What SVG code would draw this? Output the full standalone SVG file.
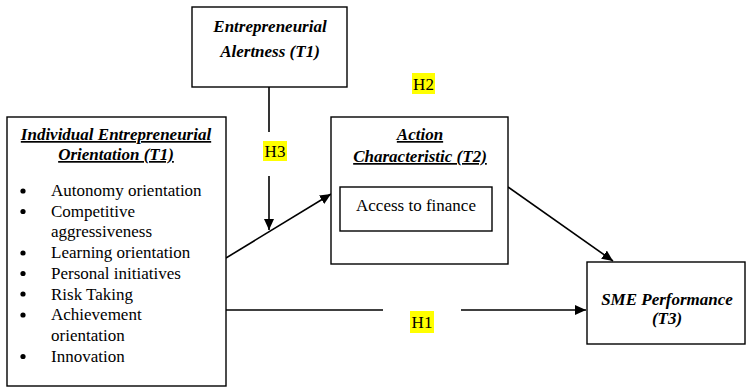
<svg xmlns="http://www.w3.org/2000/svg" width="746" height="388" viewBox="0 0 746 388">
<style>
.box{fill:#fff;stroke:#000;stroke-width:1.4}
.t{font-family:"Liberation Serif","Times New Roman",serif;font-size:17px;fill:#000}
.bi{font-weight:bold;font-style:italic}
.u{text-decoration:underline}
.hl{fill:#ffff00}
.ln{stroke:#000;stroke-width:1.6;fill:none}
</style>
<defs>
<marker id="ah" markerUnits="userSpaceOnUse" markerWidth="12" markerHeight="10" refX="11" refY="5" orient="auto">
<path d="M0,0 L11,5 L0,10 Z" fill="#000"/>
</marker>
</defs>
<rect width="746" height="388" fill="#fff"/>

<g id="connectors">
<line class="ln" x1="269" y1="87" x2="269" y2="132"/>
<line class="ln" x1="269" y1="176" x2="269" y2="230" marker-end="url(#ah)"/>
<line class="ln" x1="226" y1="258" x2="331" y2="194" marker-end="url(#ah)"/>
<line class="ln" x1="508" y1="187" x2="613" y2="261" marker-end="url(#ah)"/>
<line class="ln" x1="226" y1="310" x2="383" y2="310"/>
<line class="ln" x1="461" y1="310" x2="586" y2="310" marker-end="url(#ah)"/>
</g>

<g id="label-h1">
<rect class="hl" x="410" y="311" width="24" height="22"/>
<text class="t" x="422" y="328" text-anchor="middle">H1</text>
</g>
<g id="label-h2">
<rect class="hl" x="412" y="73" width="23" height="21"/>
<text class="t" x="423.5" y="90" text-anchor="middle">H2</text>
</g>
<g id="label-h3">
<rect class="hl" x="263" y="141" width="24" height="20"/>
<text class="t" x="275" y="157" text-anchor="middle">H3</text>
</g>

<g id="node-alertness">
<rect class="box" x="192" y="7" width="155" height="80"/>
<text class="t bi" x="270" y="32" text-anchor="middle">Entrepreneurial</text>
<text class="t bi" x="270" y="57" text-anchor="middle">Alertness (T1)</text>
</g>

<g id="node-ieo">
<rect class="box" x="7" y="117" width="219" height="269"/>
<text class="t bi u" x="116" y="140" text-anchor="middle">Individual Entrepreneurial</text>
<text class="t bi u" x="116" y="160" text-anchor="middle">Orientation (T1)</text>
<g fill="#000">
<circle cx="23" cy="191" r="2.6"/>
<circle cx="23" cy="211.5" r="2.6"/>
<circle cx="23" cy="253" r="2.6"/>
<circle cx="23" cy="273.5" r="2.6"/>
<circle cx="23" cy="294" r="2.6"/>
<circle cx="23" cy="315" r="2.6"/>
<circle cx="23" cy="356.5" r="2.6"/>
</g>
<text class="t" x="51" y="196">Autonomy orientation</text>
<text class="t" x="51" y="216.7">Competitive</text>
<text class="t" x="51" y="237.4">aggressiveness</text>
<text class="t" x="51" y="258.1">Learning orientation</text>
<text class="t" x="51" y="278.8">Personal initiatives</text>
<text class="t" x="51" y="299.5">Risk Taking</text>
<text class="t" x="51" y="320.2">Achievement</text>
<text class="t" x="51" y="340.9">orientation</text>
<text class="t" x="51" y="361.6">Innovation</text>
</g>

<g id="node-action">
<rect class="box" x="331" y="117" width="177" height="147"/>
<text class="t bi u" x="420" y="140" text-anchor="middle">Action</text>
<text class="t bi u" x="420" y="162" text-anchor="middle">Characteristic (T2)</text>
</g>

<g id="node-finance">
<rect class="box" x="340" y="187" width="152" height="44"/>
<text class="t" x="416" y="211" text-anchor="middle">Access to finance</text>
</g>

<g id="node-sme">
<rect class="box" x="587" y="262" width="158" height="82"/>
<text class="t bi" x="667" y="305" text-anchor="middle">SME Performance</text>
<text class="t bi" x="667" y="324" text-anchor="middle">(T3)</text>
</g>
</svg>
